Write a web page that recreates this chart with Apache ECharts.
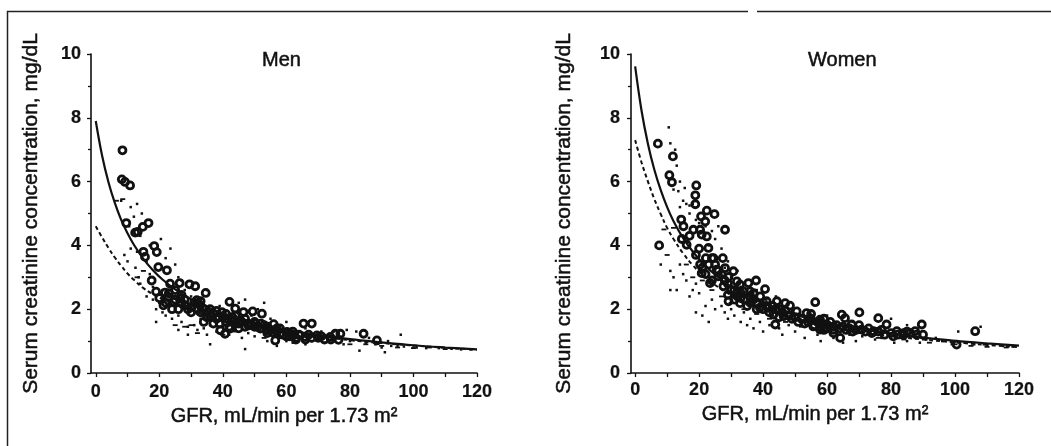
<!DOCTYPE html>
<html>
<head>
<meta charset="utf-8">
<script src="https://cdn.jsdelivr.net/npm/echarts@6/dist/echarts.min.js"></script>
<style>
html,body{margin:0;padding:0;background:#fff;}
#chart{width:1051px;height:446px;}
</style>
</head>
<body>
<div id="chart"></div>
<script>
// ---------- data ----------
var panelTitles = ['Men', 'Women'];
var xName = 'GFR, mL/min per 1.73 m²';
var yName = 'Serum creatinine concentration, mg/dL';
var xTicks = [0, 20, 40, 60, 80, 100, 120];
var xMinorTicks = [0, 10, 20, 30, 40, 50, 60, 70, 80, 90, 100, 110, 120];

var curveX = [0, 2, 4, 6, 8, 10, 12, 15, 18, 21, 25, 30, 35, 40, 50, 60, 70, 80, 90, 100, 110, 120];
var menSolid = [7.90, 6.81, 5.98, 5.33, 4.80, 4.38, 4.02, 3.58, 3.22, 2.93, 2.62, 2.31, 2.07, 1.87, 1.57, 1.35, 1.19, 1.06, 0.96, 0.87, 0.80, 0.74];
var menDashed = [4.60, 4.25, 3.92, 3.62, 3.36, 3.12, 2.92, 2.66, 2.47, 2.32, 2.14, 1.96, 1.80, 1.67, 1.46, 1.29, 1.15, 1.03, 0.94, 0.86, 0.79, 0.73];
var womenSolid = [9.61, 8.22, 7.18, 6.37, 5.73, 5.20, 4.76, 4.23, 3.81, 3.46, 3.08, 2.71, 2.42, 2.19, 1.83, 1.58, 1.39, 1.24, 1.11, 1.01, 0.93, 0.86];
var womenDashed = [7.30, 6.60, 6.00, 5.45, 4.98, 4.55, 4.20, 3.75, 3.38, 3.08, 2.76, 2.44, 2.20, 2.00, 1.69, 1.46, 1.29, 1.16, 1.05, 0.96, 0.88, 0.81];

var menCircles = [
 [8.4,6.98],[8.2,6.07],[9.2,5.99],[10.8,5.88],[9.6,4.70],[12.4,4.40],[13.2,4.42],[14.8,4.58],[16.6,4.70],
 [18.4,3.98],[19.2,3.79],[15.5,3.64],[15.0,3.80],[19.7,3.32],[22.4,3.22],[17.6,2.90],[23.4,2.80],[26.4,2.82],
 [29.5,2.78],[31.3,2.72],[34.6,2.51],[21.8,2.52],[22.9,2.38],[26.6,2.33],[31.8,2.28],[32.9,2.12],[21.3,2.12],
 [24.5,2.23],[28.1,2.12],[30.2,2.07],[33.9,2.02],[37.1,1.86],[38.6,1.76],[39.7,1.91],[42.1,2.23],[43.9,2.02],
 [46.5,1.91],[49.4,1.93],[52.3,1.86],[41.3,1.70],[43.4,1.65],[45.5,1.65],[39.2,1.34],[40.7,1.23],[42.3,1.39],
 [48.1,1.49],[50.2,1.55],[51.8,1.39],[53.9,1.34],[56.0,1.53],[56.5,1.02],[58.1,1.23],[60.2,1.29],[62.3,1.18],
 [65.4,1.55],[68.0,1.55],[65.9,1.13],[69.6,1.18],[73.8,1.13],[75.4,1.23],[77.0,1.23],[84.3,1.23],[88.5,1.02],
 [76.4,1.04],[23,2.5],[25,2.3],[27,2.2],[29,2.0],[31,2.2],[33,1.9],[35,1.9],[36,2.0],[38,1.7],[41,1.6],
 [43,1.75],[44,1.55],[46,1.6],[47,1.45],[49,1.5],[51,1.45],[53,1.5],[55,1.35],[57,1.3],[59,1.2],[61,1.15],
 [63,1.1],[64,1.2],[67,1.2],[70,1.1],[72,1.05],[24,2.0],[22,2.2],[26,2.0],[30,1.9],[34,1.6],[37,1.55],
 [42,1.45],[45,1.4],[50,1.6],[54,1.25],[58,1.4],[62,1.3],
 [27,2.45],[28,2.3],[32,2.0],[33,2.25],[35,1.75],[36,1.8],[38,1.95],[39,1.55],[40,1.75],[41,1.85],[44,1.8],
 [45,1.55],[47,1.7],[48,1.55],[50,1.45],[52,1.55],[54,1.45],[56,1.25],[57,1.4],[60,1.15],[61,1.25],[63,1.05],
 [66,1.05],[68,1.1],[71,1.15],[74,1.05],[20,2.35],[25,2.6],[19,2.55]
];
var menDots = [
 [8,5.4],[11,5.2],[13,5.3],[14.5,5.0],[12,4.9],[10.5,4.6],[14,4.3],[20.5,4.2],[17,4.0],[11,3.9],[13,3.8],
 [9,3.7],[10,3.5],[12.5,3.3],[13.5,3.0],[14,2.8],[17,3.1],[18,2.7],[16,3.5],[22,3.6],[23.5,3.9],[25,3.4],
 [26,3.0],[27,2.9],[28,2.6],[30,2.4],[33,2.3],[35,2.6],[18,2.3],[20,2.2],[19,2.0],[21,1.9],[22,1.8],[24,1.7],
 [23,2.3],[25,2.0],[26,1.8],[27,1.6],[26,1.35],[29,1.45],[31,1.5],[32,1.35],[34,1.4],[36,1.5],[38,1.3],
 [40,1.45],[42,1.2],[44,1.35],[46,1.1],[48,1.25],[50,1.15],[52,1.3],[54,1.0],[56,1.2],[58,1.1],[60,1.0],
 [62,0.95],[64,1.15],[66,0.9],[68,1.0],[70,1.1],[72,0.95],[75,1.3],[78,0.9],[80,1.0],[82,1.3],[85,0.95],
 [88,0.9],[90,0.8],[92,1.0],[95,0.85],[96,1.2],[100,0.8],[83,0.7],[91,0.65],[36,0.9],[47,0.75],[57,0.85],
 [45,2.2],[47,2.3],[49,1.8],[51,2.0],[39,2.1],[37,1.9],[33,1.7],[21,2.6],[16,2.4],[19,1.6],[29,1.2],[35,1.2],
 [53,2.2],[55,1.7],[60,1.6],[66,1.4],[71,1.3],[79,1.35],[86,1.1],[93,0.85],[97,0.83],[101,0.8],[104,0.78],
 [108,0.78],[112,0.76],[115,0.74],[118,0.74]
];
var menDashes = [
 [6.5,5.4],[8.5,5.45],[13,3.0],[15,3.2],[25,1.5],[28,1.45],[30,1.5],[32,1.25],[40,1.2],[44,1.3],[50,1.4],
 [53,1.1],[60,1.05],[70,1.0],[75,1.05],[80,0.9],[85,0.9],[90,0.85],[95,0.8],[100,0.78],[105,0.8],[110,0.75]
];

var womenCircles = [
 [7.1,7.19],[11.8,6.79],[10.7,6.20],[11.5,5.98],[7.5,4.00],[19.1,5.88],[18.8,5.57],[18.8,5.29],[22.4,5.09],
 [24.8,4.98],[20.6,4.91],[21.9,4.75],[28.1,4.49],[14.4,4.81],[15.1,4.60],[18.2,4.49],[20.3,4.49],[20.8,4.34],
 [22.4,4.28],[14.6,4.20],[16.1,4.02],[22.9,3.92],[22.1,3.60],[24.5,3.60],[27.4,3.60],[20.3,3.40],[25.5,3.24],
 [28.1,3.29],[30.7,3.19],[20.8,3.13],[26.0,3.03],[29.2,3.01],[31.8,2.87],[23.4,2.82],[27.6,2.72],[32.8,2.77],
 [35.4,2.82],[37.8,2.90],[40.6,2.63],[35.9,2.56],[39.1,2.40],[31.8,2.51],[37.0,2.30],[29.2,2.25],[32.8,2.19],
 [41.1,2.25],[44.3,2.25],[46.9,2.19],[48.4,2.11],[56.3,2.22],[50.5,1.93],[53.6,1.88],[41.7,2.04],[43.2,1.83],
 [46.4,1.78],[54.7,1.72],[57.8,1.67],[64.6,1.83],[65.6,1.72],[70.1,1.90],[76.0,1.72],[64.1,1.10],[43.8,1.52],
 [55.7,1.46],[57.8,1.36],[59.9,1.52],[62.0,1.25],[67.7,1.52],[70.8,1.36],[74.5,1.31],[78.6,1.52],[81.8,1.31],
 [83.9,1.25],[87.5,1.31],[89.6,1.52],[106.3,1.31],[100.5,0.89],[80.7,1.15],
 [26,3.2],[28,2.9],[30,2.6],[32,2.4],[34,2.3],[36,2.4],[38,2.2],[40,2.0],[42,1.9],[44,2.0],[46,1.9],[48,1.8],
 [50,1.75],[52,1.7],[54,1.6],[56,1.5],[58,1.45],[60,1.4],[62,1.45],[64,1.4],[66,1.35],[68,1.3],[72,1.3],
 [74,1.25],[76,1.3],[80,1.25],[84,1.2],[86,1.25],[88,1.2],[35,2.1],[39,2.05],[45,1.75],[55,1.85],[57,1.6],
 [59,1.35],[61,1.6],[63,1.5],[33,2.5],[31,2.3],[29,2.45],[24,2.9],[22,3.1],[21,3.3],[23,3.4],
 [27,3.1],[29,2.8],[31,2.6],[33,2.35],[34,2.55],[36,2.2],[37,2.5],[38,2.0],[41,2.1],[43,2.1],[45,2.0],
 [47,1.95],[49,1.7],[51,1.6],[53,1.55],[55,1.65],[58,1.55],[59,1.7],[60,1.5],[62,1.35],[65,1.45],[67,1.4],
 [69,1.35],[70,1.5],[73,1.4],[77,1.35],[78,1.2],[82,1.2],[85,1.3],[90,1.2],[24,3.6],[25,3.4],[19,3.7],
 [20,3.9],[17,4.3]
];
var womenDots = [
 [10.5,7.7],[11,7.2],[12.5,7.0],[13,6.5],[14,6.0],[12,5.75],[13.5,5.7],[15.5,5.8],[15,5.4],[16,5.3],[17,5.25],
 [18,5.3],[19,4.8],[17,5.0],[14,5.2],[20,4.7],[22,4.6],[24,4.45],[23,4.0],[25,4.2],[27,3.9],[26,3.6],[28,3.3],
 [29,3.5],[8,3.4],[11,3.2],[12,3.0],[13,2.6],[11,2.6],[14,3.4],[15,3.1],[16,2.9],[17,2.4],[18,2.6],[19,2.8],
 [20,2.5],[21,1.8],[23,1.6],[19,1.9],[22,2.1],[24,2.3],[25,2.0],[27,2.1],[28,1.9],[30,2.0],[29,1.7],[31,1.8],
 [33,1.6],[34,1.9],[35,1.5],[36,1.7],[37,1.4],[39,1.6],[40,1.3],[42,1.5],[43,1.8],[45,1.4],[46,1.2],[48,1.5],
 [50,1.3],[52,1.6],[53,1.1],[55,1.4],[57,1.2],[58,1.0],[60,1.3],[62,1.1],[64,1.4],[65,0.95],[67,1.2],[69,1.0],
 [71,1.15],[73,1.25],[75,1.05],[77,1.1],[79,1.2],[81,0.95],[83,1.1],[85,1.0],[87,1.15],[89,0.95],[91,1.05],
 [94,1.1],[96,1.0],[99,0.9],[101,1.3],[103,0.95],[106,0.9],[109,0.9],[112,0.88],[115,0.85],[118,0.83],
 [33,2.7],[38,2.6],[41,2.3],[44,2.4],[47,2.1],[49,1.95],[51,1.85],[55,1.6],[60,1.8],[62,1.55],[68,1.6],
 [72,1.4],[80,1.7],[85,1.5],[108,1.45],[26,4.6],[30,3.0],[32,3.2]
];
var womenDashes = [
 [9,4.5],[10,3.7],[12,4.55],[16,3.4],[18,3.0],[21,2.9],[24,2.6],[27,2.4],[30,2.2],[34,2.0],[38,1.85],[42,1.7],
 [47,1.6],[52,1.45],[58,1.3],[64,1.2],[70,1.25],[76,1.1],[84,1.05],[92,0.95],[100,0.9],[105,0.85],[110,0.82],[116,0.8]
];

// ---------- build ----------
function pairs(xs, ys) { return xs.map(function (x, i) { return [x, ys[i]]; }); }
var INK = '#111';
var FONT = '"Liberation Sans", Arial, sans-serif';
function txt(size, weight, stroke) {
  return { color: INK, fontSize: size, fontFamily: FONT, fontWeight: weight, textBorderColor: INK, textBorderWidth: stroke };
}

function xAxis(gi, min, nameGap, namePad, labelMargin) {
  var ns = txt(20, 'normal', 0.5); ns.padding = namePad;
  var ls = txt(18, 'bold', 0.2); ls.margin = labelMargin; ls.customValues = xTicks;
  return {
    type: 'value', gridIndex: gi, min: min, max: 120,
    name: xName, nameLocation: 'middle', nameGap: nameGap, nameTextStyle: ns,
    axisLine: { show: true, onZero: false, lineStyle: { color: INK, width: 1.6 } },
    axisTick: { show: true, length: 4, customValues: xMinorTicks, lineStyle: { color: INK, width: 1.3 } },
    axisLabel: ls,
    splitLine: { show: false }
  };
}
function yAxis(gi, nameGap, labelMargin) {
  var ls = txt(18, 'bold', 0.2); ls.margin = labelMargin;
  return {
    type: 'value', gridIndex: gi, min: 0, max: 10, interval: 2,
    name: yName, nameLocation: 'middle', nameGap: nameGap, nameTextStyle: txt(21, 'normal', 0.5),
    axisLine: { show: true, onZero: false, lineStyle: { color: INK, width: 1.6 } },
    axisTick: { show: true, length: 4, lineStyle: { color: INK, width: 1.3 } },
    minorTick: { show: true, splitNumber: 2, length: 3, lineStyle: { color: INK, width: 1.3 } },
    axisLabel: ls,
    splitLine: { show: false }
  };
}
function lineSeries(i, ys, dashed) {
  return {
    type: 'line', xAxisIndex: i, yAxisIndex: i, data: pairs(curveX, ys),
    smooth: 0.4, showSymbol: false, symbol: 'none', z: 5,
    lineStyle: { color: INK, width: dashed ? 2 : 2.2, type: dashed ? [4, 3] : 'solid' }
  };
}
function circleSeries(i, d) {
  return {
    type: 'scatter', xAxisIndex: i, yAxisIndex: i, data: d, symbol: 'circle', symbolSize: 7, z: 4,
    itemStyle: { color: 'rgba(0,0,0,0)', borderColor: INK, borderWidth: 2.8, opacity: 1 }
  };
}
function dotSeries(i, d) {
  return {
    type: 'scatter', xAxisIndex: i, yAxisIndex: i, data: d, symbol: 'rect', symbolSize: 2.5, z: 3,
    itemStyle: { color: INK, opacity: 1 }
  };
}
function dashSeries(i, d) {
  return {
    type: 'scatter', xAxisIndex: i, yAxisIndex: i, data: d, symbol: 'rect', symbolSize: [5, 1.8], z: 3,
    itemStyle: { color: INK, opacity: 1 }
  };
}

var chart = echarts.init(document.getElementById('chart'), null, { renderer: 'canvas' });
chart.setOption({
  backgroundColor: '#fff',
  animation: false,
  title: [
    { text: panelTitles[0], left: 262, top: 50, padding: 0, textStyle: txt(20, 'normal', 0.5) },
    { text: panelTitles[1], left: 808, top: 50, padding: 0, textStyle: txt(20, 'normal', 0.5) }
  ],
  grid: [
    { left: 91, right: 574, top: 54, bottom: 73, outerBoundsMode: 'none', containLabel: false },
    { left: 631, right: 32, top: 54, bottom: 73, outerBoundsMode: 'none', containLabel: false }
  ],
  xAxis: [ xAxis(0, -1.5, 21, [0, 0, 0, 0], 10), xAxis(1, -1.3, 30, [0, 20, 0, 0], 8) ],
  yAxis: [ yAxis(0, 49, 10), yAxis(1, 56, 11) ],
  series: [
    dotSeries(0, menDots), dashSeries(0, menDashes), circleSeries(0, menCircles),
    lineSeries(0, menSolid, false), lineSeries(0, menDashed, true),
    dotSeries(1, womenDots), dashSeries(1, womenDashes), circleSeries(1, womenCircles),
    lineSeries(1, womenSolid, false), lineSeries(1, womenDashed, true)
  ],
  graphic: [
    { type: 'polyline', silent: true, shape: { points: [[7.5, 446], [7.5, 11.5], [748, 11.5]] }, style: { stroke: '#222', lineWidth: 1.5, fill: null } },
    { type: 'line', silent: true, shape: { x1: 757, y1: 11.5, x2: 1051, y2: 11.5 }, style: { stroke: '#222', lineWidth: 1.5 } }
  ]
});
</script>
</body>
</html>
